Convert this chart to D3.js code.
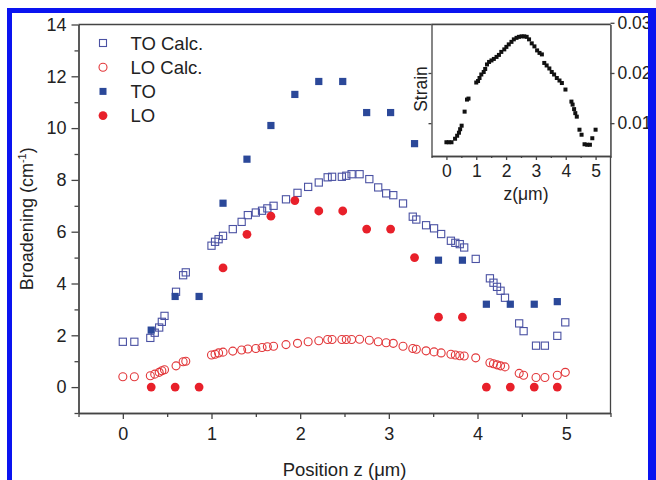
<!DOCTYPE html>
<html>
<head>
<meta charset="utf-8">
<script src="https://cdn.jsdelivr.net/npm/d3@7"></script>
<style>
  body { margin: 0; background: #fff; }
  text { font-family: "Liberation Sans", Arial, sans-serif; fill: #222; }
  .axis path, .axis line { stroke: #444; stroke-width: 1.3; }
</style>
</head>
<body>
<script>
// calculated broadening positions (um) and values (cm-1)
let calcZ = [0.00, 0.13, 0.31, 0.36, 0.41, 0.44, 0.47, 0.60, 0.68, 0.71, 1.00, 1.04, 1.08, 1.13, 1.24, 1.34, 1.41, 1.50, 1.57, 1.63,
  1.70, 1.84, 1.97, 2.09, 2.21, 2.31, 2.36, 2.47, 2.52, 2.58, 2.67, 2.78, 2.88, 2.97, 3.05, 3.16, 3.27, 3.31, 3.42, 3.51,
  3.59, 3.70, 3.75, 3.80, 3.85, 3.98, 4.14, 4.18, 4.22, 4.26, 4.31, 4.47, 4.52, 4.66, 4.76, 4.90, 4.99];
let toCalc = [1.75, 1.75, 1.90, 2.10, 2.30, 2.52, 2.75, 3.68, 4.32, 4.43, 5.46, 5.61, 5.71, 5.84, 6.10, 6.38, 6.64, 6.74, 6.81, 6.90,
  7.00, 7.25, 7.50, 7.73, 7.90, 8.10, 8.12, 8.12, 8.16, 8.22, 8.22, 8.03, 7.71, 7.48, 7.41, 7.09, 6.58, 6.47, 6.25, 6.13,
  5.91, 5.65, 5.57, 5.52, 5.39, 4.95, 4.20, 4.03, 3.87, 3.72, 3.45, 2.46, 2.16, 1.60, 1.60, 1.98, 2.50];
let loCalc = [0.40, 0.40, 0.44, 0.50, 0.57, 0.63, 0.67, 0.82, 0.98, 1.00, 1.24, 1.27, 1.32, 1.35, 1.39, 1.43, 1.47, 1.49, 1.53, 1.56,
  1.58, 1.64, 1.69, 1.75, 1.79, 1.84, 1.84, 1.84, 1.84, 1.84, 1.85, 1.81, 1.75, 1.71, 1.69, 1.58, 1.49, 1.46, 1.40, 1.36,
  1.32, 1.27, 1.24, 1.21, 1.20, 1.13, 0.94, 0.90, 0.86, 0.82, 0.78, 0.53, 0.46, 0.37, 0.37, 0.46, 0.57];

// measured broadening
let measZ = [0.32, 0.59, 0.86, 1.13, 1.40, 1.67, 1.94, 2.21, 2.48, 2.75, 3.02, 3.29, 3.56, 3.83, 4.10, 4.37, 4.64, 4.90];
let toMeas = [2.2, 3.5, 3.5, 7.1, 8.8, 10.1, 11.3, 11.8, 11.8, 10.6, 10.6, 9.4, 4.9, 4.9, 3.2, 3.2, 3.2, 3.3];
let loMeas = [0, 0, 0, 4.6, 5.9, 6.6, 7.2, 6.8, 6.8, 6.1, 6.1, 5.0, 2.7, 2.7, 0, 0, 0, 0];

// inset: strain profile
let strainZ = [0.00, 0.08, 0.17, 0.29, 0.36, 0.42, 0.46, 0.51, 0.61, 0.69, 0.74, 1.00, 1.06, 1.11, 1.17, 1.25, 1.30, 1.36, 1.43, 1.51,
  1.59, 1.68, 1.76, 1.84, 1.94, 2.01, 2.09, 2.18, 2.26, 2.35, 2.43, 2.52, 2.61, 2.69, 2.77, 2.86, 2.95, 3.04, 3.12, 3.20,
  3.28, 3.36, 3.45, 3.53, 3.61, 3.70, 3.79, 3.87, 3.99, 4.19, 4.23, 4.28, 4.32, 4.37, 4.46, 4.53, 4.63, 4.72, 4.81, 4.89, 5.00];
let strainVal = [0.0062, 0.0062, 0.0062, 0.0069, 0.0075, 0.0081, 0.0088, 0.0095, 0.0123, 0.0147, 0.0149, 0.0181, 0.0184, 0.0190, 0.0197, 0.0202, 0.0208, 0.0217, 0.0222, 0.0225,
  0.0228, 0.0232, 0.0236, 0.0242, 0.0247, 0.0252, 0.0257, 0.0262, 0.0267, 0.0270, 0.0272, 0.0273, 0.0273, 0.0272, 0.0267, 0.0259, 0.0253, 0.0245, 0.0240, 0.0237,
  0.0220, 0.0215, 0.0209, 0.0202, 0.0197, 0.0190, 0.0185, 0.0180, 0.0167, 0.0143, 0.0137, 0.0128, 0.0120, 0.0113, 0.0087, 0.0077, 0.0058, 0.0057, 0.0057, 0.0070, 0.0087];

let xTicks = [0, 1, 2, 3, 4, 5];
let xMinor = [-0.5, 0.5, 1.5, 2.5, 3.5, 4.5, 5.5];
let yTicks = [0, 2, 4, 6, 8, 10, 12, 14];
let yMinor = [-1, 1, 3, 5, 7, 9, 11, 13];
let strainTicks = [0.01, 0.02, 0.03];

let legendNames = ["TO Calc.", "LO Calc.", "TO", "LO"];

let width = 656, height = 480;
let plotLeft = 78.5, plotRight = 610.5, plotTop = 24.5, plotBottom = 413;

let blueOpen = "#4b52a3", blueFill = "#2b4899", redOpen = "#e2373a", redFill = "#e8202a";

let svg = d3.select("body").append("svg")
    .attr("width", width)
    .attr("height", height);

let xScale = d3.scaleLinear().domain([-0.5, 5.5]).range([plotLeft, plotRight]);
let yScale = d3.scaleLinear().domain([-1, 14]).range([plotBottom, plotTop]);

// main axes
svg.append("g").attr("class", "axis")
    .attr("transform", "translate(0," + plotBottom + ")")
    .call(d3.axisBottom(xScale).tickValues(xTicks).tickFormat(d3.format("d")).tickSize(6).tickSizeOuter(0).tickPadding(8))
    .selectAll("text").style("font-size", "18px");
svg.append("g").attr("class", "axis")
    .attr("transform", "translate(0," + plotBottom + ")")
    .call(d3.axisBottom(xScale).tickValues(xMinor).tickSize(4).tickSizeOuter(0).tickFormat(""));

svg.append("g").attr("class", "axis")
    .attr("transform", "translate(" + plotLeft + ",0)")
    .call(d3.axisLeft(yScale).tickValues(yTicks).tickSize(7).tickSizeOuter(0).tickPadding(5))
    .selectAll("text").style("font-size", "18px");
svg.append("g").attr("class", "axis")
    .attr("transform", "translate(" + plotLeft + ",0)")
    .call(d3.axisLeft(yScale).tickValues(yMinor).tickSize(4).tickSizeOuter(0).tickFormat(""));

// top and right frame
svg.append("line").attr("x1", plotLeft).attr("x2", plotRight).attr("y1", plotTop).attr("y2", plotTop)
    .attr("stroke", "#444").attr("stroke-width", 1.3);
svg.append("line").attr("x1", plotRight).attr("x2", plotRight).attr("y1", plotTop).attr("y2", plotBottom)
    .attr("stroke", "#444").attr("stroke-width", 1.3);

svg.selectAll(".axis text").style("fill", "#222").style("font-family", "Liberation Sans, Arial, sans-serif");

// axis titles
svg.append("text")
    .attr("x", (plotLeft + plotRight) / 2)
    .attr("y", 476)
    .style("text-anchor", "middle")
    .style("font-size", "18.5px")
    .text("Position z (\u03bcm)");

let yLab = svg.append("text")
    .attr("transform", "translate(33," + ((plotTop + plotBottom) / 2) + ") rotate(-90)")
    .style("text-anchor", "middle")
    .style("font-size", "18px");
yLab.append("tspan").text("Broadening (cm");
yLab.append("tspan").attr("dy", -7).style("font-size", "11px").text("-1");
yLab.append("tspan").attr("dy", 7).text(")");

// calculated series (open markers)
let calcRows = calcZ.map((z, i) => ({z: z, to: toCalc[i], lo: loCalc[i]}));
svg.selectAll(".tocalc")
    .data(calcRows).enter().append("rect")
    .attr("x", d => xScale(d.z) - 3.6)
    .attr("y", d => yScale(d.to) - 3.6)
    .attr("width", 7.2).attr("height", 7.2)
    .attr("fill", "none").attr("stroke", blueOpen).attr("stroke-width", 1.1);
svg.selectAll(".localc")
    .data(calcRows).enter().append("circle")
    .attr("cx", d => xScale(d.z))
    .attr("cy", d => yScale(d.lo))
    .attr("r", 4)
    .attr("fill", "none").attr("stroke", redOpen).attr("stroke-width", 1.1);

// measured series (filled markers)
let measRows = measZ.map((z, i) => ({z: z, to: toMeas[i], lo: loMeas[i]}));
svg.selectAll(".tomeas")
    .data(measRows).enter().append("rect")
    .attr("x", d => xScale(d.z) - 3.6)
    .attr("y", d => yScale(d.to) - 3.6)
    .attr("width", 7.2).attr("height", 7.2)
    .attr("fill", blueFill);
svg.selectAll(".lomeas")
    .data(measRows).enter().append("circle")
    .attr("cx", d => xScale(d.z))
    .attr("cy", d => yScale(d.lo))
    .attr("r", 4.4)
    .attr("fill", redFill);

// legend
let legend = svg.append("g");
legendNames.forEach(function(name, i) {
    let ly = 43 + i * 24.2;
    if (i == 0) legend.append("rect").attr("x", 99.5).attr("y", ly - 3.5).attr("width", 7).attr("height", 7)
        .attr("fill", "none").attr("stroke", blueOpen).attr("stroke-width", 1.1);
    if (i == 1) legend.append("circle").attr("cx", 103).attr("cy", ly).attr("r", 4)
        .attr("fill", "none").attr("stroke", redOpen).attr("stroke-width", 1.1);
    if (i == 2) legend.append("rect").attr("x", 99.5).attr("y", ly - 3.5).attr("width", 7).attr("height", 7)
        .attr("fill", blueFill);
    if (i == 3) legend.append("circle").attr("cx", 103).attr("cy", ly).attr("r", 4.4)
        .attr("fill", redFill);
    legend.append("text")
        .attr("x", 130.5).attr("y", ly + 6.5)
        .style("font-size", "18.5px")
        .text(name);
});

/******************************************
 * INSET: strain vs z
 ******************************************/
let inLeft = 431.5, inBottom = 156;
let xIn = d3.scaleLinear().domain([-0.5, 5.5]).range([inLeft, plotRight]);
let yIn = d3.scaleLinear().domain([0.00346, 0.02966]).range([inBottom, plotTop]);

svg.append("rect")
    .attr("x", inLeft).attr("y", plotTop)
    .attr("width", plotRight - inLeft).attr("height", inBottom - plotTop)
    .attr("fill", "#fff");

svg.append("g").attr("class", "axis")
    .attr("transform", "translate(0," + inBottom + ")")
    .call(d3.axisBottom(xIn).tickValues(xTicks).tickFormat(d3.format("d")).tickSize(4).tickSizeOuter(0).tickPadding(5))
    .selectAll("text").style("font-size", "17.5px");
svg.append("g").attr("class", "axis")
    .attr("transform", "translate(0," + inBottom + ")")
    .call(d3.axisBottom(xIn).tickValues(xMinor).tickSize(2).tickSizeOuter(0).tickFormat(""));
svg.append("g").attr("class", "axis")
    .attr("transform", "translate(" + inLeft + ",0)")
    .call(d3.axisLeft(yIn).tickValues([0.01, 0.02]).tickSize(3).tickSizeOuter(0).tickFormat(""));
svg.append("g").attr("class", "axis")
    .attr("transform", "translate(" + plotRight + ",0)")
    .call(d3.axisRight(yIn).tickValues(strainTicks).tickSize(4).tickSizeOuter(0).tickPadding(3).tickFormat(d3.format(".2f")))
    .selectAll("text").style("font-size", "17.5px");
svg.append("line").attr("x1", inLeft).attr("x2", plotRight).attr("y1", plotTop).attr("y2", plotTop)
    .attr("stroke", "#444").attr("stroke-width", 1.3);

svg.selectAll(".axis text").style("fill", "#222").style("font-family", "Liberation Sans, Arial, sans-serif");

svg.append("text")
    .attr("x", (inLeft + plotRight) / 2 + 5)
    .attr("y", 200)
    .style("text-anchor", "middle")
    .style("font-size", "17.5px")
    .text("z(\u03bcm)");
svg.append("text")
    .attr("transform", "translate(427,89) rotate(-90)")
    .style("text-anchor", "middle")
    .style("font-size", "17.5px")
    .text("Strain");

svg.selectAll(".strain")
    .data(strainZ.map((z, i) => ({z: z, s: strainVal[i]})))
    .enter().append("rect")
    .attr("x", d => xIn(d.z) - 2)
    .attr("y", d => yIn(d.s) - 2)
    .attr("width", 4).attr("height", 4)
    .attr("fill", "#111");

// blue frame on top of everything
svg.append("rect").attr("x", 7).attr("y", 8).attr("width", 5).attr("height", 472).attr("fill", "#0a14f0");
svg.append("rect").attr("x", 7).attr("y", 8).attr("width", 649).attr("height", 5).attr("fill", "#0a14f0");
svg.append("rect").attr("x", 648).attr("y", 8).attr("width", 8).attr("height", 472).attr("fill", "#0a14f0");
</script>
</body>
</html>
